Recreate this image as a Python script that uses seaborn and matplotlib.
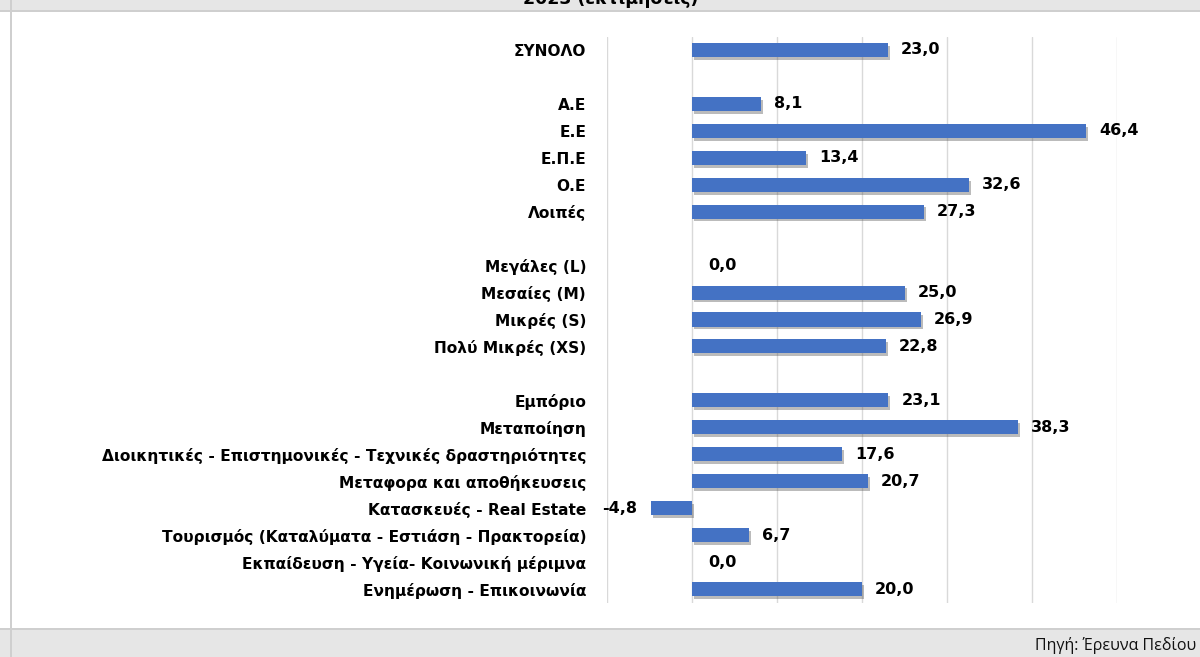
import matplotlib
matplotlib.use("Agg")
import matplotlib.pyplot as plt
import matplotlib.patheffects as pe
from matplotlib.patches import Rectangle
import seaborn as sns
import pandas as pd
import numpy as np

categories = [
    "ΣΥΝΟΛΟ", " ",
    "Α.Ε", "Ε.Ε", "Ε.Π.Ε", "Ο.Ε", "Λοιπές", "  ",
    "Μεγάλες (L)", "Μεσαίες (M)", "Μικρές (S)", "Πολύ Μικρές (XS)", "   ",
    "Εμπόριο", "Μεταποίηση",
    "Διοικητικές - Επιστημονικές - Τεχνικές δραστηριότητες",
    "Μεταφορα και αποθήκευσεις", "Κατασκευές - Real Estate",
    "Τουρισμός (Καταλύματα - Εστιάση - Πρακτορεία)",
    "Εκπαίδευση - Υγεία- Κοινωνική μέριμνα", "Ενημέρωση - Επικοινωνία",
]
values = [
    23.0, np.nan,
    8.1, 46.4, 13.4, 32.6, 27.3, np.nan,
    0.0, 25.0, 26.9, 22.8, np.nan,
    23.1, 38.3, 17.6, 20.7, -4.8, 6.7, 0.0, 20.0,
]
title = "2023 (εκτιμήσεις)"
source = "Πηγή: Έρευνα Πεδίου"
x_ticks = [-10, 0, 10, 20, 30, 40, 50]

df = pd.DataFrame({"cat": categories, "val": values})

sns.set_theme(style="white")
plt.rcParams["font.family"] = ["DejaVu Sans"]
plt.rcParams["text.color"] = "black"

W, H = 1200, 657
fig = plt.figure(figsize=(W / 100, H / 100), dpi=100)
fig.patch.set_facecolor("white")

# frame decorations
bg = "#e6e6e6"
line = "#cfcfcf"
fig.add_artist(Rectangle((0, 1 - 10 / H), 1, 10 / H, transform=fig.transFigure,
                         facecolor=bg, edgecolor="none", zorder=0))
fig.add_artist(Rectangle((0, 1 - 12 / H), 1, 2 / H, transform=fig.transFigure,
                         facecolor=line, edgecolor="none", zorder=0))
fig.add_artist(Rectangle((0, 0), 1, 27 / H, transform=fig.transFigure,
                         facecolor=bg, edgecolor="none", zorder=0))
fig.add_artist(Rectangle((0, 27 / H), 1, 2 / H, transform=fig.transFigure,
                         facecolor=line, edgecolor="none", zorder=0))
fig.add_artist(Rectangle((10 / W, 0), 2 / W, 1, transform=fig.transFigure,
                         facecolor=line, edgecolor="none", zorder=0))

fig.text(611 / W, 1 - 4 / H, title, ha="center", va="baseline",
         fontsize=12.5, fontweight="bold", color="black")
fig.text(1196 / W, 1 - 645 / H, source, ha="right", va="center",
         fontsize=11.5, color="#111111", family=["Open Sans", "DejaVu Sans"])

ax = fig.add_axes([607 / W, 1 - 602.5 / H, (1117 - 607) / W, (602.5 - 36.5) / H])
ax.set_facecolor("none")

sns.barplot(data=df, x="val", y="cat", order=categories, orient="h",
            color="#4472c4", saturation=1, width=0.52, ax=ax, zorder=3)

shadow = [pe.SimplePatchShadow(offset=(1.5, -2), shadow_rgbFace="#555555", alpha=0.4),
          pe.Normal()]
for p in ax.patches:
    p.set_path_effects(shadow)
    p.set_edgecolor("none")

ax.set_xlim(-10, 50)
ax.set_ylim(len(categories) - 0.5, -0.5)
ax.set_xticks(x_ticks)
ax.set_xticklabels([])
ax.grid(axis="x", color="#d9d9d9", linewidth=1, zorder=0)
ax.grid(axis="y", visible=False)
for s in ax.spines.values():
    s.set_visible(False)
ax.set_xlabel("")
ax.set_ylabel("")
ax.tick_params(axis="y", length=0, pad=15)
ax.tick_params(axis="x", length=0)
for lbl in ax.get_yticklabels():
    lbl.set_fontweight("bold")
    lbl.set_fontsize(11.1)
    lbl.set_color("black")

for i, v in enumerate(values):
    if np.isnan(v):
        continue
    txt = f"{v:.1f}".replace(".", ",")
    if v < 0:
        ax.annotate(txt, (v, i), xytext=(-10, 0), textcoords="offset points",
                    ha="right", va="center", fontsize=11.5, fontweight="bold",
                    color="black")
    else:
        off = 12 if v == 0 else 9.5
        ax.annotate(txt, (v, i), xytext=(off, 0), textcoords="offset points",
                    ha="left", va="center", fontsize=11.5, fontweight="bold",
                    color="black")

fig.savefig("out.png", dpi=100)
